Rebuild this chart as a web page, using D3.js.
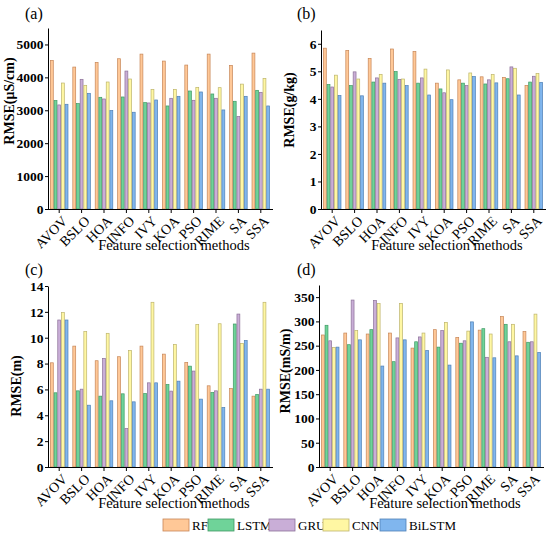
<!DOCTYPE html>
<html>
  <head>
    <meta http-equiv="Content-Type" content="text/html;charset=utf-8"/>
    <script src="https://d3js.org/d3.v7.min.js"></script>
    <style type="text/css">
    body { margin: 0; background: #fff; }
    .axis path, .axis line { stroke: #000; stroke-width: 1px; }
    </style>
  </head>
  <body>
    <script type="text/javascript">
    // categories and series
    var methods = ["AVOV", "BSLO", "HOA", "INFO", "IVY", "KOA", "PSO", "RIME", "SA", "SSA"];
    var models = ["RF", "LSTM", "GRU", "CNN", "BiLSTM"];

    // (a) RMSE in uS/cm
    var aRF     = [4515, 4313, 4455, 4566, 4707, 4495, 4374, 4707, 4364, 4737];
    var aLSTM   = [3293, 3202, 3394, 3404, 3232, 3131, 3586, 3495, 3273, 3606];
    var aGRU    = [3162, 3940, 3343, 4192, 3222, 3364, 3303, 3364, 2810, 3545];
    var aCNN    = [3828, 3758, 3859, 3950, 3636, 3636, 3697, 3687, 3795, 3970];
    var aBiLSTM = [3182, 3515, 2990, 2940, 3313, 3424, 3556, 3010, 3424, 3131];

    // (b) RMSE in g/kg
    var bRF     = [5.84, 5.76, 5.47, 5.81, 5.72, 4.57, 4.69, 4.80, 4.78, 4.49];
    var bLSTM   = [4.52, 4.48, 4.61, 4.99, 4.57, 4.36, 4.57, 4.54, 4.73, 4.61];
    var bGRU    = [4.43, 4.98, 4.76, 4.70, 4.76, 4.22, 4.48, 4.69, 5.16, 4.82];
    var bCNN    = [4.86, 4.72, 4.89, 4.72, 5.08, 5.05, 4.94, 4.88, 5.11, 4.92];
    var bBiLSTM = [4.12, 4.11, 4.57, 4.48, 4.14, 3.97, 4.81, 4.58, 4.14, 4.60];

    // (c) RMSE in m
    var cRF     = [8.06, 9.35, 8.22, 8.53, 9.35, 8.73, 8.09, 6.28, 6.07, 5.48];
    var cLSTM   = [5.74, 5.89, 5.48, 5.66, 5.68, 6.38, 7.80, 5.76, 11.06, 5.61];
    var cGRU    = [11.37, 6.02, 8.40, 2.97, 6.51, 5.87, 7.42, 5.89, 11.83, 6.02];
    var cCNN    = [11.94, 10.47, 10.34, 9.00, 12.74, 9.48, 11.03, 11.08, 9.56, 12.74];
    var cBiLSTM = [11.37, 4.78, 5.12, 5.04, 6.51, 6.64, 5.25, 4.60, 9.78, 6.02];

    // (d) RMSE in mS/m
    var dRF     = [272, 276, 274, 276, 245, 283, 267, 282, 310, 279];
    var dLSTM   = [292, 252, 283, 217, 258, 247, 255, 285, 294, 257];
    var dGRU    = [260, 344, 343, 266, 268, 281, 260, 226, 258, 258];
    var dCNN    = [246, 281, 337, 337, 276, 298, 280, 274, 294, 315];
    var dBiLSTM = [247, 262, 208, 262, 240, 210, 299, 225, 229, 236];

    // tick labels
    var aTicks = [0, 1000, 2000, 3000, 4000, 5000];
    var bTicks = [0, 1, 2, 3, 4, 5, 6];
    var cTicks = [0, 2, 4, 6, 8, 10, 12, 14];
    var dTicks = [0, 50, 100, 150, 200, 250, 300, 350];

    var fills   = ["#FFC897", "#6FD399", "#C9AED7", "#FFF7A3", "#80B6EE"];
    var strokes = ["#C78657", "#3F9A63", "#8C7199", "#BDB46B", "#4F80B6"];

    var serif = "'Liberation Serif', 'Times New Roman', Times, 'DejaVu Serif', serif";

    var width = 550;
    var height = 538;

    var svg = d3.select("body")
      .append("svg")
        .attr("width", width)
        .attr("height", height)
        .style("font-family", serif);

    function font(sel, size, weight) {
      sel.style("font-family", serif)
        .style("font-size", size + "px")
        .style("font-weight", weight || "normal")
        .attr("fill", "#000");
    }

    function renderPanel(p) {
      var g = svg.append("g");

      var xScale = d3.scaleBand()
        .domain(methods)
        .range([p.left, p.right])
        .paddingInner(0.18)
        .paddingOuter(0.09);

      var xInner = d3.scaleBand()
        .domain(models)
        .range([0, xScale.bandwidth()]);

      var yScale = d3.scaleLinear()
        .domain([0, p.max])
        .range([p.bottom, p.top]);

      // bars
      var groups = g.selectAll("g.group")
        .data(methods)
        .enter().append("g")
          .attr("transform", function(d) { return "translate(" + xScale(d) + ",0)"; });

      groups.selectAll("rect")
        .data(function(d, i) {
          return p.series.map(function(s, k) { return {model: models[k], value: s[i], k: k}; });
        })
        .enter().append("rect")
          .attr("x", function(d) { return xInner(d.model) + 0.4; })
          .attr("width", xInner.bandwidth() - 0.8)
          .attr("y", function(d) { return yScale(d.value); })
          .attr("height", function(d) { return p.bottom - yScale(d.value); })
          .attr("fill", function(d) { return fills[d.k]; })
          .attr("stroke", function(d) { return strokes[d.k]; })
          .attr("stroke-width", 0.7);

      // y axis
      var yAxis = d3.axisLeft(yScale)
        .tickValues(p.ticks)
        .tickFormat(d3.format("d"))
        .tickSize(3)
        .tickSizeOuter(0)
        .tickPadding(1.5);

      var yg = g.append("g")
          .classed("axis y-axis", true)
          .attr("transform", "translate(" + p.left + ",0)")
          .call(yAxis);
      yg.selectAll(".tick text").call(font, 13.5, "bold");

      // x axis
      var xAxis = d3.axisBottom(xScale)
        .tickSize(4)
        .tickSizeOuter(0);

      var xg = g.append("g")
          .classed("axis x-axis", true)
          .attr("transform", "translate(0," + p.bottom + ")")
          .call(xAxis);

      xg.select("path.domain")
        .attr("d", "M" + p.left + ",0.5H" + (p.right + 1));

      xg.selectAll(".tick text")
          .call(font, 14)
          .attr("text-anchor", "end")
          .attr("dx", 0)
          .attr("dy", 0)
          .attr("transform", "translate(4,8) rotate(-45)");

      // titles
      g.append("text")
          .call(font, 14, "bold")
          .attr("text-anchor", "middle")
          .attr("transform", "translate(" + p.yTitleX + "," + p.yTitleY + ") rotate(-90)")
          .text(p.yTitle);

      g.append("text")
          .call(font, 14.5)
          .attr("text-anchor", "middle")
          .attr("x", (p.left + p.right) / 2 + 14)
          .attr("y", p.bottom + 41)
          .text("Feature selection methods");

      g.append("text")
          .call(font, 16)
          .attr("x", p.tagX)
          .attr("y", p.tagY)
          .text(p.tag);
    }

    renderPanel({tag: "(a)", tagX: 25, tagY: 19, left: 48, right: 272, top: 28, bottom: 209,
      max: 5500, ticks: aTicks, yTitle: "RMSE(\u03bcS/cm)", yTitleX: 14, yTitleY: 101,
      series: [aRF, aLSTM, aGRU, aCNN, aBiLSTM]});

    renderPanel({tag: "(b)", tagX: 297, tagY: 19, left: 321, right: 545, top: 30, bottom: 209,
      max: 6.5, ticks: bTicks, yTitle: "RMSE(g/kg)", yTitleX: 294, yTitleY: 110,
      series: [bRF, bLSTM, bGRU, bCNN, bBiLSTM]});

    renderPanel({tag: "(c)", tagX: 25, tagY: 275, left: 48, right: 272, top: 286, bottom: 467,
      max: 14, ticks: cTicks, yTitle: "RMSE(m)", yTitleX: 21, yTitleY: 386,
      series: [cRF, cLSTM, cGRU, cCNN, cBiLSTM]});

    renderPanel({tag: "(d)", tagX: 297, tagY: 275, left: 319, right: 543, top: 285, bottom: 467,
      max: 375, ticks: dTicks, yTitle: "RMSE(mS/m)", yTitleX: 290, yTitleY: 371,
      series: [dRF, dLSTM, dGRU, dCNN, dBiLSTM]});

    // legend: labels first, swatches on top
    var legendX = [163, 208, 269, 323, 380];
    var legend = svg.append("g");

    legend.selectAll("text")
      .data(models)
      .enter().append("text")
        .call(font, 13)
        .attr("x", function(d, i) { return legendX[i] + 29; })
        .attr("y", 530)
        .text(function(d) { return d; });

    legend.selectAll("rect")
      .data(models)
      .enter().append("rect")
        .attr("x", function(d, i) { return legendX[i]; })
        .attr("y", 519)
        .attr("width", 26)
        .attr("height", 12)
        .attr("fill", function(d, i) { return fills[i]; })
        .attr("stroke", function(d, i) { return strokes[i]; })
        .attr("stroke-width", 0.8);
    </script>
  </body>
</html>
